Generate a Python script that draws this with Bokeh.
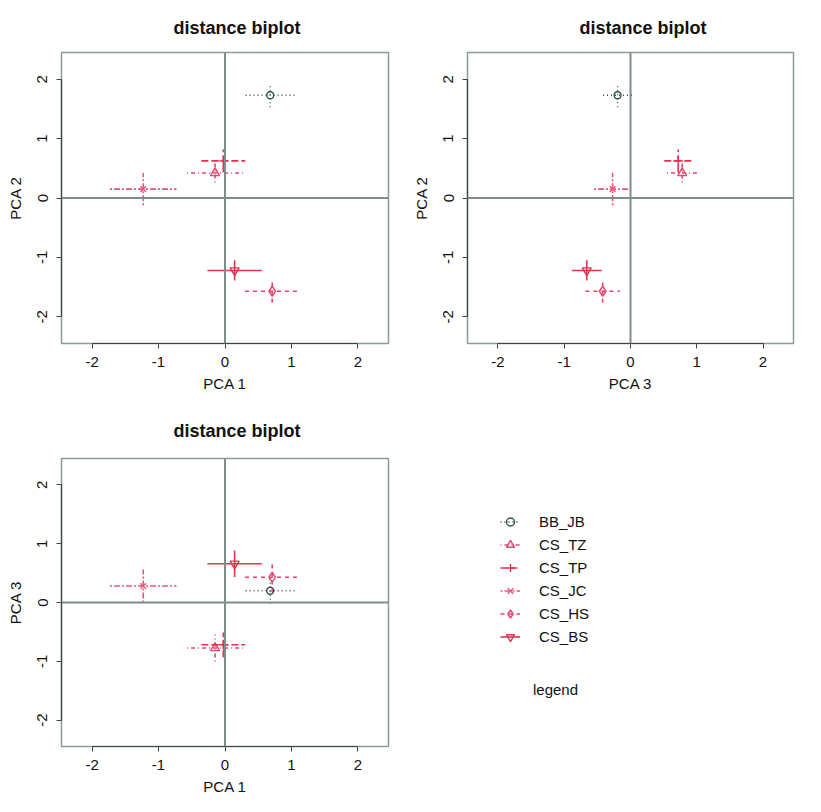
import numpy as np
from bokeh.plotting import figure
from bokeh.models import (Range1d, FixedTicker, Span, ColumnDataSource, Legend,
                          LegendItem, Label, CustomJSTickFormatter)
from bokeh.layouts import column, row
from bokeh.embed import file_html
from bokeh.resources import INLINE

# ---------------- data ----------------
labels = ["BB_JB", "CS_TZ", "CS_TP", "CS_JC", "CS_HS", "CS_BS"]

pca1 = [0.68, -0.15, -0.025, -1.23, 0.71, 0.145]
pca1_err = [0.37, 0.42, 0.33, 0.50, 0.41, 0.41]

pca2 = [1.73, 0.42, 0.625, 0.15, -1.57, -1.22]
pca2_err = [0.20, 0.16, 0.19, 0.27, 0.19, 0.17]

# PCA 3 as drawn in the upper-right panel (x axis)
pca3_top = [-0.195, 0.78, 0.72, -0.27, -0.42, -0.66]
# PCA 3 as drawn in the lower-left panel (y axis)
pca3_bottom = [0.20, -0.775, -0.72, 0.28, 0.43, 0.66]
pca3_err = [0.22, 0.23, 0.21, 0.28, 0.26, 0.225]

ticks = [-2, -1, 0, 1, 2]

# ---------------- styles ----------------
colors = ["#2f4f4f", "#e6456d", "#e2304f", "#e8557a", "#e6456d", "#e2334f"]
dashes = ["1 3", "1 3 4 3", "7 3", "2 2 6 2", "4 4", "solid"]
markers = ["circle", "triangle", "cross", "x", "diamond", "inverted_triangle"]
msizes = [7, 9, 10, 8, 10, 9]
FONT = "Liberation Sans"
FS = "15px"


def panel(xv, xe, yv, ye, xlab, ylab, width, height, mb, title_standoff):
    p = figure(width=width, height=height, x_range=Range1d(-2.46, 2.46),
               y_range=Range1d(-2.45, 2.45), toolbar_location=None,
               output_backend="svg", title="distance biplot",
               min_border_left=mb[0], min_border_right=mb[1],
               min_border_top=mb[2], min_border_bottom=mb[3])
    p.title.align = "left"
    p.title.offset = 112
    p.title.text_font = FONT
    p.title.text_font_size = "18px"
    p.title.text_font_style = "bold"
    p.title.text_color = "#111111"
    p.title.standoff = title_standoff
    p.grid.visible = False
    p.outline_line_color = "#8d9a9a"
    p.outline_line_width = 1.5
    p.outline_line_alpha = 1.0
    p.background_fill_color = "white"
    p.border_fill_color = "white"

    for ax, lab in ((p.xaxis[0], xlab), (p.yaxis[0], ylab)):
        ax.ticker = FixedTicker(ticks=ticks, minor_ticks=[])
        ax.formatter = CustomJSTickFormatter(code="return String(tick);")
        ax.bounds = (-2, 2)
        ax.axis_label = lab
        ax.axis_label_text_font = FONT
        ax.axis_label_text_font_size = FS
        ax.axis_label_text_font_style = "normal"
        ax.axis_label_text_color = "#111111"
        ax.major_label_text_font = FONT
        ax.major_label_text_font_size = FS
        ax.major_label_text_color = "#111111"
        ax.axis_line_color = "#3c4444"
        ax.axis_line_width = 1.2
        ax.major_tick_line_color = "#3c4444"
        ax.major_tick_out = 5
        ax.major_tick_in = 0
        ax.minor_tick_out = 0
        ax.minor_tick_in = 0
        ax.major_label_standoff = 8
        ax.axis_label_standoff = 5
    p.yaxis[0].major_label_orientation = "vertical"
    p.yaxis[0].major_label_standoff = 9
    p.yaxis[0].axis_label_standoff = 11

    p.add_layout(Span(location=0, dimension="height", line_color="#7f8c8c", line_width=2))
    p.add_layout(Span(location=0, dimension="width", line_color="#7f8c8c", line_width=2))

    for i in range(len(labels)):
        src = ColumnDataSource(dict(
            x=[xv[i]], y=[yv[i]],
            xl=[xv[i] - xe[i]], xr=[xv[i] + xe[i]],
            yl=[yv[i] - ye[i]], yh=[yv[i] + ye[i]]))
        lw = 1.3 if i == 0 else 1.6
        p.segment(x0="xl", y0="y", x1="xr", y1="y", source=src,
                  line_color=colors[i], line_dash=dashes[i], line_width=lw)
        p.segment(x0="x", y0="yl", x1="x", y1="yh", source=src,
                  line_color=colors[i], line_dash=dashes[i], line_width=lw)
        p.scatter("x", "y", source=src, marker=markers[i], size=msizes[i],
                  line_color=colors[i], fill_color=None, line_width=1.4)
    return p


f1 = panel(pca1, pca1_err, pca2, pca2_err, "PCA 1", "PCA 2", 406, 400, (61, 18, 52, 57), 30)
f2 = panel(pca3_top, pca3_err, pca2, pca2_err, "PCA 3", "PCA 2", 415, 400, (61, 28, 52, 57), 30)
f3 = panel(pca1, pca1_err, pca3_bottom, pca3_err, "PCA 1", "PCA 3", 406, 412, (61, 18, 58, 66), 36)

# ---------------- legend panel ----------------
lg = figure(width=415, height=412, x_range=Range1d(0, 415), y_range=Range1d(288, 0),
            toolbar_location=None, output_backend="svg", x_axis_type=None,
            y_axis_type=None, min_border=0, outline_line_color=None)
lg.grid.visible = False
items = []
for i in range(len(labels)):
    src = ColumnDataSource(dict(x=np.array([np.nan]), y=np.array([np.nan])))
    lw = 1.3 if i == 0 else 1.6
    r1 = lg.line("x", "y", source=src, line_color=colors[i], line_dash=dashes[i], line_width=lw)
    r2 = lg.scatter("x", "y", source=src, marker=markers[i], size=msizes[i],
                    line_color=colors[i], fill_color=None, line_width=1.4)
    items.append(LegendItem(label=labels[i], renderers=[r1, r2]))

legend = Legend(items=items, location=(94, 98), padding=0, margin=0, spacing=0,
                glyph_width=20, glyph_height=23, label_height=23, label_standoff=19,
                border_line_color=None, background_fill_alpha=0,
                label_text_font=FONT, label_text_font_size=FS, label_text_color="#111111")
lg.add_layout(legend)
lg.add_layout(Label(x=149, y=231, text="legend", text_align="center",
                    text_baseline="middle", text_font=FONT, text_font_size=FS,
                    text_color="#111111"))

layout = column(row(f1, f2), row(f3, lg))
open("out.html", "w").write(file_html(layout, INLINE))
